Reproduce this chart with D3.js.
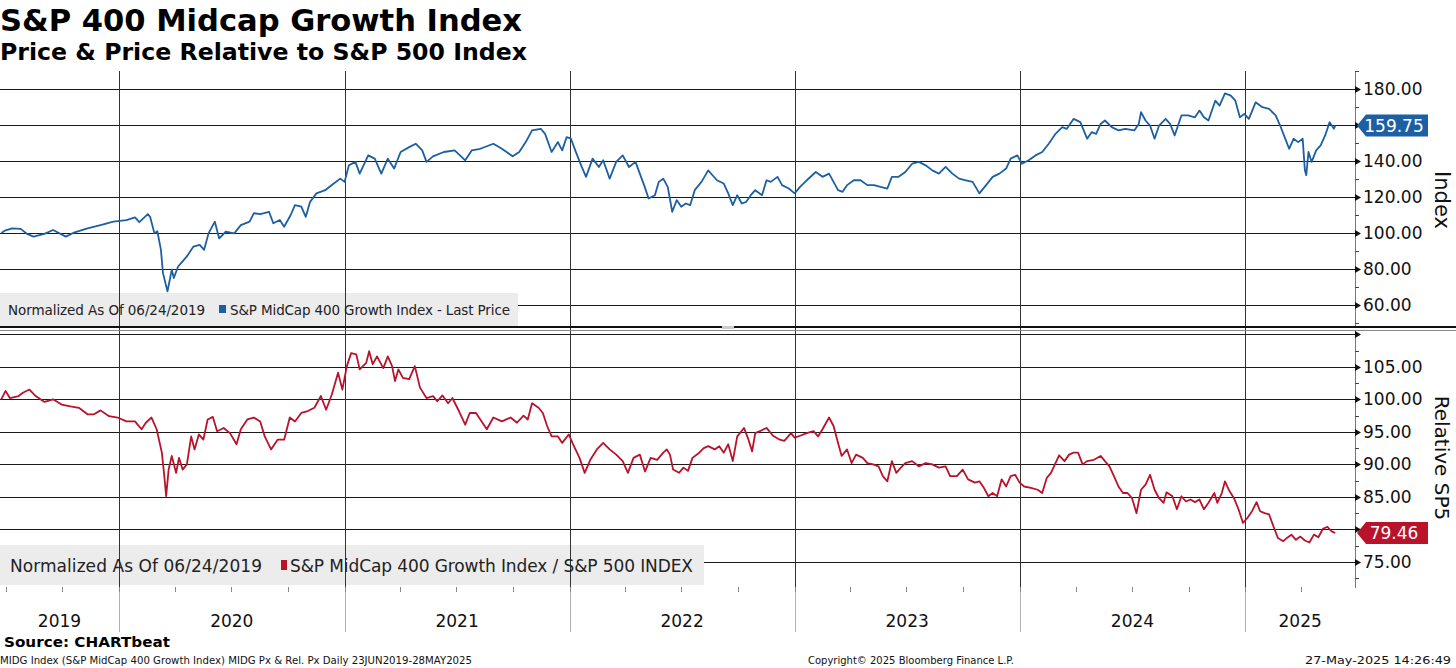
<!DOCTYPE html>
<html>
<head>
<meta charset="utf-8">
<script src="https://cdn.jsdelivr.net/npm/d3@7"></script>
<style>
  body { margin: 0; background: #fff; }
  text { font-family: "DejaVu Sans", Verdana, sans-serif; }
</style>
</head>
<body>
<div id="chart"></div>
<script>
// S&P 400 Midcap Growth: price (normalized) and price relative to S&P 500
// dates are decimal years

const priceYears = [
  2019.477, 2019.496, 2019.525, 2019.563, 2019.592, 2019.620, 2019.669, 2019.707, 2019.764, 2019.803,
  2019.860, 2019.918, 2019.975, 2020.033, 2020.071, 2020.090, 2020.128, 2020.138, 2020.157, 2020.170,
  2020.186, 2020.195, 2020.215, 2020.234, 2020.243, 2020.262, 2020.282, 2020.301, 2020.330, 2020.358,
  2020.377, 2020.397, 2020.425, 2020.444, 2020.473, 2020.511, 2020.540, 2020.579, 2020.598, 2020.626,
  2020.665, 2020.684, 2020.713, 2020.732, 2020.761, 2020.780, 2020.808, 2020.828, 2020.847, 2020.875,
  2020.914, 2020.952, 2020.981, 2021.000, 2021.019, 2021.048, 2021.067, 2021.105, 2021.134, 2021.163,
  2021.192, 2021.220, 2021.249, 2021.287, 2021.316, 2021.345, 2021.364, 2021.393, 2021.441, 2021.489,
  2021.536, 2021.565, 2021.603, 2021.661, 2021.699, 2021.747, 2021.776, 2021.805, 2021.833, 2021.872,
  2021.891, 2021.920, 2021.948, 2021.967, 2021.987, 2022.006, 2022.025, 2022.054, 2022.073, 2022.102,
  2022.130, 2022.149, 2022.178, 2022.207, 2022.236, 2022.264, 2022.293, 2022.312, 2022.331, 2022.351,
  2022.379, 2022.396, 2022.416, 2022.436, 2022.456, 2022.476, 2022.496, 2022.516, 2022.536, 2022.556,
  2022.586, 2022.616, 2022.635, 2022.655, 2022.685, 2022.705, 2022.725, 2022.745, 2022.765, 2022.785,
  2022.805, 2022.825, 2022.855, 2022.875, 2022.894, 2022.924, 2022.944, 2022.974, 2023.000, 2023.024,
  2023.054, 2023.094, 2023.124, 2023.153, 2023.173, 2023.193, 2023.213, 2023.233, 2023.263, 2023.293,
  2023.323, 2023.353, 2023.382, 2023.412, 2023.432, 2023.462, 2023.492, 2023.522, 2023.552, 2023.582,
  2023.612, 2023.641, 2023.671, 2023.701, 2023.731, 2023.761, 2023.791, 2023.821, 2023.851, 2023.880,
  2023.910, 2023.940, 2023.960, 2023.990, 2024.010, 2024.040, 2024.070, 2024.100, 2024.129, 2024.159,
  2024.189, 2024.209, 2024.239, 2024.269, 2024.299, 2024.319, 2024.339, 2024.359, 2024.378, 2024.408,
  2024.438, 2024.468, 2024.508, 2024.528, 2024.538, 2024.558, 2024.578, 2024.598, 2024.618, 2024.647,
  2024.667, 2024.687, 2024.717, 2024.747, 2024.777, 2024.797, 2024.817, 2024.837, 2024.867, 2024.886,
  2024.910, 2024.936, 2024.956, 2024.976, 2024.996, 2025.016, 2025.046, 2025.076, 2025.106, 2025.135,
  2025.155, 2025.175, 2025.195, 2025.215, 2025.235, 2025.255, 2025.265, 2025.271, 2025.281, 2025.295,
  2025.315, 2025.335, 2025.355, 2025.375, 2025.394, 2025.400
];
const priceValues = [
  100.0, 101.5, 102.6, 102.3, 99.5, 98.0, 99.5, 101.7, 98.0, 100.4,
  102.6, 104.4, 106.3, 107.2, 108.7, 106.0, 110.5, 109.0, 99.8, 101.0,
  90.6, 77.7, 67.6, 79.6, 75.0, 81.4, 84.2, 87.0, 92.5, 93.4,
  90.6, 99.8, 106.3, 97.0, 100.7, 99.8, 104.4, 106.3, 111.0, 110.5,
  111.8, 105.4, 107.2, 103.5, 110.0, 115.5, 114.6, 109.0, 117.3, 122.0,
  123.8, 127.5, 130.2, 128.4, 137.6, 139.5, 133.0, 143.1, 141.3, 133.0,
  141.3, 135.8, 145.0, 147.7, 149.6, 145.9, 139.5, 142.6, 145.0, 145.9,
  140.4, 145.9, 146.8, 149.6, 146.8, 142.6, 145.0, 150.5, 157.0, 157.9,
  155.1, 145.0, 150.5, 145.9, 153.3, 152.4, 145.9, 136.7, 131.2, 141.3,
  136.7, 140.4, 130.2, 139.5, 143.1, 136.7, 139.5, 133.0, 126.6, 119.2,
  121.0, 128.4, 130.2, 125.6, 111.8, 118.3, 114.6, 116.4, 115.5, 123.8,
  128.4, 134.8, 132.1, 129.3, 127.5, 122.0, 115.5, 121.0, 116.4, 117.3,
  121.0, 123.8, 121.0, 129.3, 128.4, 131.2, 126.6, 124.7, 122.0, 125.6,
  129.3, 133.9, 131.2, 133.0, 128.4, 123.8, 122.9, 126.6, 129.3, 129.3,
  126.6, 126.6, 125.6, 124.7, 131.2, 131.2, 133.9, 138.5, 139.5, 137.6,
  134.8, 133.0, 136.7, 133.0, 130.2, 129.3, 128.4, 122.0, 126.6, 131.2,
  133.0, 135.8, 141.3, 143.1, 138.5, 140.4, 143.1, 145.0, 149.6, 155.1,
  158.8, 157.9, 163.4, 161.6, 152.4, 156.0, 155.1, 160.6, 162.5, 158.8,
  157.0, 157.9, 157.0, 160.6, 167.1, 162.5, 159.7, 152.4, 159.7, 163.4,
  160.6, 154.2, 165.3, 165.3, 164.3, 168.0, 164.3, 162.5, 173.5, 170.8,
  177.6, 176.3, 173.5, 164.3, 166.2, 163.4, 172.6, 169.9, 168.9, 165.3,
  159.7, 153.3, 146.8, 152.4, 150.5, 152.4, 134.8, 132.1, 145.0, 139.5,
  145.9, 148.7, 154.2, 161.6, 157.9, 159.75
];

const relYears = [
  2019.477, 2019.496, 2019.515, 2019.554, 2019.573, 2019.602, 2019.630, 2019.669, 2019.707, 2019.745,
  2019.784, 2019.822, 2019.860, 2019.889, 2019.918, 2019.956, 2019.994, 2020.033, 2020.071, 2020.100,
  2020.119, 2020.144, 2020.167, 2020.190, 2020.201, 2020.209, 2020.220, 2020.234, 2020.253, 2020.266,
  2020.282, 2020.301, 2020.320, 2020.335, 2020.354, 2020.374, 2020.393, 2020.416, 2020.435, 2020.464,
  2020.492, 2020.521, 2020.540, 2020.569, 2020.598, 2020.626, 2020.646, 2020.674, 2020.703, 2020.732,
  2020.757, 2020.780, 2020.808, 2020.837, 2020.866, 2020.895, 2020.918, 2020.943, 2020.971, 2020.990,
  2021.010, 2021.029, 2021.052, 2021.067, 2021.096, 2021.109, 2021.125, 2021.144, 2021.172, 2021.192,
  2021.211, 2021.224, 2021.239, 2021.259, 2021.287, 2021.312, 2021.335, 2021.364, 2021.393, 2021.412,
  2021.435, 2021.460, 2021.479, 2021.508, 2021.536, 2021.556, 2021.584, 2021.603, 2021.632, 2021.661,
  2021.699, 2021.738, 2021.766, 2021.795, 2021.814, 2021.833, 2021.862, 2021.881, 2021.900, 2021.920,
  2021.948, 2021.967, 2021.996, 2022.015, 2022.044, 2022.067, 2022.092, 2022.121, 2022.149, 2022.178,
  2022.207, 2022.236, 2022.259, 2022.284, 2022.312, 2022.335, 2022.360, 2022.389, 2022.416, 2022.432,
  2022.446, 2022.460, 2022.486, 2022.506, 2022.526, 2022.546, 2022.576, 2022.596, 2022.616, 2022.645,
  2022.665, 2022.685, 2022.705, 2022.725, 2022.745, 2022.775, 2022.795, 2022.811, 2022.825, 2022.845,
  2022.875, 2022.904, 2022.934, 2022.954, 2022.984, 2023.000, 2023.024, 2023.054, 2023.084, 2023.104,
  2023.124, 2023.153, 2023.173, 2023.193, 2023.209, 2023.233, 2023.253, 2023.273, 2023.303, 2023.323,
  2023.349, 2023.373, 2023.392, 2023.412, 2023.432, 2023.452, 2023.472, 2023.492, 2023.522, 2023.552,
  2023.582, 2023.612, 2023.641, 2023.671, 2023.691, 2023.721, 2023.747, 2023.771, 2023.801, 2023.821,
  2023.841, 2023.861, 2023.880, 2023.900, 2023.920, 2023.940, 2023.960, 2023.980, 2024.000, 2024.020,
  2024.050, 2024.080, 2024.100, 2024.120, 2024.139, 2024.159, 2024.175, 2024.199, 2024.219, 2024.239,
  2024.259, 2024.279, 2024.299, 2024.329, 2024.359, 2024.378, 2024.398, 2024.418, 2024.438, 2024.458,
  2024.478, 2024.498, 2024.518, 2024.538, 2024.558, 2024.578, 2024.598, 2024.618, 2024.638, 2024.651,
  2024.677, 2024.697, 2024.717, 2024.737, 2024.757, 2024.777, 2024.797, 2024.817, 2024.837, 2024.863,
  2024.876, 2024.896, 2024.910, 2024.930, 2024.950, 2024.970, 2024.990, 2025.010, 2025.030, 2025.050,
  2025.066, 2025.086, 2025.106, 2025.125, 2025.145, 2025.169, 2025.185, 2025.205, 2025.225, 2025.245,
  2025.265, 2025.285, 2025.305, 2025.325, 2025.345, 2025.365, 2025.384, 2025.400
];
const relValues = [
  100.0, 101.3, 100.2, 100.5, 101.0, 101.5, 100.5, 99.6, 100.0, 99.2,
  98.9, 98.7, 97.7, 97.7, 98.3, 97.4, 97.2, 96.6, 96.6, 95.4,
  96.4, 97.2, 95.4, 91.8, 88.2, 85.1, 89.2, 91.3, 88.7, 91.0,
  89.2, 90.0, 94.3, 92.3, 94.6, 93.8, 96.9, 97.3, 95.1, 95.6,
  94.8, 93.1, 95.4, 96.9, 97.2, 96.6, 94.3, 92.3, 93.8, 93.8,
  97.2, 96.6, 97.9, 98.2, 98.7, 100.5, 98.4, 100.7, 104.1, 101.5,
  105.1, 107.1, 106.9, 104.6, 105.6, 107.4, 105.4, 106.6, 104.8, 106.6,
  105.1, 102.8, 104.6, 103.3, 103.1, 105.1, 101.8, 100.2, 100.5, 99.7,
  100.6, 99.4, 100.2, 98.2, 96.1, 97.9, 97.9, 96.9, 95.4, 97.2,
  96.6, 97.2, 96.4, 97.5, 96.9, 99.4, 98.7, 97.9, 95.9, 94.3,
  94.3, 93.3, 94.6, 93.1, 91.0, 88.7, 90.7, 92.3, 93.3, 92.3,
  91.5, 90.5, 88.7, 91.0, 91.5, 88.9, 91.0, 90.7, 91.8, 92.3,
  91.5, 89.2, 88.7, 89.5, 89.0, 91.0, 91.8, 92.5, 92.8, 92.3,
  92.8, 91.8, 93.1, 90.5, 94.3, 95.6, 93.8, 92.0, 94.8, 95.1,
  95.6, 94.4, 93.8, 93.6, 94.8, 94.1, 94.4, 94.8, 95.1, 94.3,
  95.4, 97.2, 95.9, 93.3, 91.3, 92.3, 90.2, 91.5, 91.0, 90.2,
  90.0, 89.7, 88.2, 87.4, 90.5, 88.7, 89.5, 90.2, 90.5, 89.7,
  90.2, 90.0, 89.5, 89.7, 88.2, 88.2, 89.2, 87.7, 87.2, 87.4,
  86.4, 85.1, 85.6, 85.1, 87.7, 86.6, 88.2, 88.4, 87.2, 86.6,
  86.4, 86.1, 85.6, 87.9, 88.7, 90.2, 91.4, 90.5, 91.5, 91.8,
  91.8, 90.0, 90.5, 90.7, 91.3, 90.5, 89.7, 88.2, 86.6, 85.6,
  85.6, 84.8, 82.5, 86.1, 86.9, 88.4, 86.1, 84.8, 84.1, 85.7,
  85.1, 83.1, 85.1, 84.3, 84.6, 84.2, 84.6, 83.1, 84.1, 85.6,
  84.1, 85.6, 87.4, 85.9, 84.8, 83.1, 81.0, 81.8, 82.8, 84.2,
  82.8, 82.5, 82.3, 80.5, 78.7, 78.2, 78.7, 79.2, 78.4, 78.9,
  78.3, 78.0, 79.2, 78.8, 80.1, 80.4, 79.7, 79.46
];

const yearLabels = [2019, 2020, 2021, 2022, 2023, 2024, 2025];
const priceTicks = [60, 80, 100, 120, 140, 160, 180];
const relTicks = [75, 80, 85, 90, 95, 100, 105];
const lastPrice = 159.75;
const lastRel = 79.46;

const W = 1456, H = 668;
const plotRight = 1355;
const blue = '#1d5fa3', red = '#b8132b';

function toDate(y) {
  const yr = Math.floor(y);
  const s = new Date(yr, 0, 1), e = new Date(yr + 1, 0, 1);
  return new Date(+s + (y - yr) * (e - s));
}

const priceData = priceYears.map((y, i) => ({ date: toDate(y), value: priceValues[i] }));
const relData = relYears.map((y, i) => ({ date: toDate(y), value: relValues[i] }));

const svg = d3.select('#chart').append('svg')
  .attr('width', W).attr('height', H)
  .style('display', 'block');

svg.append('rect').attr('width', W).attr('height', H).attr('fill', '#fff');

// scales
const x = d3.scaleTime()
  .domain([new Date(2019, 5, 22), new Date(2025, 5, 28)])
  .range([0, plotRight]);

const yTop = d3.scaleLinear().domain([48.9, 190]).range([325, 71]);
const yBot = d3.scaleLinear().domain([71, 110.5]).range([588, 331]);

// horizontal gridlines
svg.append('g').selectAll('line')
  .data(priceTicks)
  .enter().append('line')
  .attr('x1', 0).attr('x2', plotRight)
  .attr('y1', d => Math.round(yTop(d)) + 0.5).attr('y2', d => Math.round(yTop(d)) + 0.5)
  .attr('stroke', '#1a1a1a');

svg.append('g').selectAll('line')
  .data(relTicks.concat([110]))
  .enter().append('line')
  .attr('x1', 0).attr('x2', plotRight)
  .attr('y1', d => Math.round(yBot(d)) + 0.5).attr('y2', d => Math.round(yBot(d)) + 0.5)
  .attr('stroke', '#1a1a1a');

// legend backgrounds
svg.append('rect').attr('x', 0).attr('y', 293).attr('width', 518).attr('height', 33).attr('fill', '#ececec');
svg.append('rect').attr('x', 0).attr('y', 545).attr('width', 704).attr('height', 40).attr('fill', '#ececec');

// vertical year lines
const yearStarts = yearLabels.slice(1).map(y => new Date(y, 0, 1));
svg.append('g').selectAll('line')
  .data(yearStarts)
  .enter().append('line')
  .attr('x1', d => Math.round(x(d)) + 0.5).attr('x2', d => Math.round(x(d)) + 0.5)
  .attr('y1', 71).attr('y2', 588)
  .attr('stroke', '#333');
svg.append('g').selectAll('line')
  .data(yearStarts)
  .enter().append('line')
  .attr('x1', d => Math.round(x(d)) + 0.5).attr('x2', d => Math.round(x(d)) + 0.5)
  .attr('y1', 588).attr('y2', 632)
  .attr('stroke', '#b0b0b0');

// quarterly ticks on x axis
svg.append('g').selectAll('line')
  .data(d3.timeMonth.every(3).range(x.domain()[0], x.domain()[1]))
  .enter().append('line')
  .attr('x1', d => Math.round(x(d)) + 0.5).attr('x2', d => Math.round(x(d)) + 0.5)
  .attr('y1', 587).attr('y2', 592)
  .attr('stroke', '#888');

// legend texts
const lg1 = svg.append('g').style('font-size', '13.5px').attr('fill', '#222');
lg1.append('text').attr('x', 8).attr('y', 315).attr('textLength', 197).text('Normalized As Of 06/24/2019');
lg1.append('rect').attr('x', 219).attr('y', 305).attr('width', 7).attr('height', 8).attr('fill', blue);
lg1.append('text').attr('x', 230).attr('y', 315).attr('textLength', 280).text('S&P MidCap 400 Growth Index - Last Price');

const lg2 = svg.append('g').style('font-size', '17px').attr('fill', '#222');
lg2.append('text').attr('x', 10).attr('y', 572).attr('textLength', 252).text('Normalized As Of 06/24/2019');
lg2.append('rect').attr('x', 281).attr('y', 560).attr('width', 6).attr('height', 10).attr('fill', red);
lg2.append('text').attr('x', 290).attr('y', 572).attr('textLength', 403).text('S&P MidCap 400 Growth Index / S&P 500 INDEX');

// clip paths for panels
const defs = svg.append('defs');
defs.append('clipPath').attr('id', 'clipTop')
  .append('rect').attr('x', 0).attr('y', 71).attr('width', plotRight).attr('height', 255);
defs.append('clipPath').attr('id', 'clipBot')
  .append('rect').attr('x', 0).attr('y', 331).attr('width', plotRight).attr('height', 257);

// lines
const lineTop = d3.line().x(d => x(d.date)).y(d => yTop(d.value));
const lineBot = d3.line().x(d => x(d.date)).y(d => yBot(d.value));

svg.append('path').datum(priceData)
  .attr('clip-path', 'url(#clipTop)')
  .attr('d', lineTop)
  .attr('fill', 'none').attr('stroke', blue).attr('stroke-width', 1.8)
  .attr('stroke-linejoin', 'round');

svg.append('path').datum(relData)
  .attr('clip-path', 'url(#clipBot)')
  .attr('d', lineBot)
  .attr('fill', 'none').attr('stroke', red).attr('stroke-width', 1.8)
  .attr('stroke-linejoin', 'round');

// panel separator
svg.append('line').attr('x1', 0).attr('x2', W).attr('y1', 327).attr('y2', 327)
  .attr('stroke', '#111').attr('stroke-width', 2);
svg.append('line').attr('x1', 0).attr('x2', W).attr('y1', 330.5).attr('y2', 330.5)
  .attr('stroke', '#888').attr('stroke-width', 1);
svg.append('rect').attr('x', 722).attr('y', 326).attr('width', 12).attr('height', 3).attr('fill', '#ccc');

// right axis
svg.append('line').attr('x1', plotRight + 0.5).attr('x2', plotRight + 0.5).attr('y1', 71).attr('y2', 326)
  .attr('stroke', '#777');
svg.append('line').attr('x1', plotRight + 0.5).attr('x2', plotRight + 0.5).attr('y1', 331).attr('y2', 588)
  .attr('stroke', '#777');

// hidden: the label sitting under the last-value flag
function drawAxis(scale, ticks, minorStep, lo, hi, hidden) {
  const g = svg.append('g');
  const minors = d3.range(lo, hi + 0.001, minorStep).filter(v => !ticks.includes(v));
  g.selectAll('line.minor').data(minors).enter().append('line')
    .attr('x1', plotRight).attr('x2', plotRight + 4)
    .attr('y1', d => Math.round(scale(d)) + 0.5).attr('y2', d => Math.round(scale(d)) + 0.5)
    .attr('stroke', '#444');
  g.selectAll('path.major').data(ticks).enter().append('path')
    .attr('d', d => {
      const yy = Math.round(scale(d)) + 0.5;
      return `M${plotRight},${yy - 3.5}L${plotRight + 6},${yy}L${plotRight},${yy + 3.5}Z`;
    })
    .attr('fill', '#111');
  g.selectAll('text').data(ticks.filter(t => !hidden.includes(t))).enter().append('text')
    .attr('x', 1363)
    .attr('y', d => scale(d))
    .attr('dy', '0.36em')
    .style('font-size', '17px')
    .attr('fill', '#111')
    .text(d => d.toFixed(2));
}
drawAxis(yTop, priceTicks, 10, 50, 190, [160]);
drawAxis(yBot, relTicks.concat([110]), 2.5, 72.5, 110, [80, 110]);

// last value flags
function flag(yy, label, color) {
  const g = svg.append('g');
  g.append('path')
    .attr('d', `M${plotRight + 2},${yy}L${plotRight + 11},${yy - 11}L1428,${yy - 11}L1428,${yy + 11}L${plotRight + 11},${yy + 11}Z`)
    .attr('fill', color);
  g.append('text').attr('x', 1394).attr('y', yy).attr('dy', '0.36em')
    .attr('text-anchor', 'middle').attr('fill', '#fff').style('font-size', '17px').text(label);
}
flag(yTop(lastPrice), lastPrice.toFixed(2), blue);
flag(yBot(lastRel), lastRel.toFixed(2), red);

// axis titles
svg.append('text').attr('transform', 'translate(1442,200) rotate(90)')
  .attr('text-anchor', 'middle').attr('dy', '0.35em')
  .style('font-size', '21px').attr('fill', '#111').text('Index');
svg.append('text').attr('transform', 'translate(1442,458) rotate(90)')
  .attr('text-anchor', 'middle').attr('dy', '0.35em')
  .style('font-size', '20px').attr('fill', '#111').text('Relative SP5');

// year labels centered in each year
svg.append('g').selectAll('text')
  .data(yearLabels)
  .enter().append('text')
  .attr('x', d => {
    const a = Math.max(0, x(new Date(d, 0, 1)));
    const b = Math.min(plotRight, x(new Date(d + 1, 0, 1)));
    return (a + b) / 2;
  })
  .attr('y', 627)
  .attr('text-anchor', 'middle')
  .style('font-size', '17px')
  .attr('fill', '#111')
  .text(d => d);

// titles
svg.append('text').attr('x', 0).attr('y', 31)
  .attr('textLength', 522).attr('lengthAdjust', 'spacingAndGlyphs')
  .style('font-size', '31px').style('font-weight', 'bold').attr('fill', '#000')
  .text('S&P 400 Midcap Growth Index');
svg.append('text').attr('x', 0).attr('y', 60)
  .attr('textLength', 527).attr('lengthAdjust', 'spacingAndGlyphs')
  .style('font-size', '23px').style('font-weight', 'bold').attr('fill', '#000')
  .text('Price & Price Relative to S&P 500 Index');

// footer
svg.append('text').attr('x', 4).attr('y', 647)
  .attr('textLength', 166).attr('lengthAdjust', 'spacingAndGlyphs')
  .style('font-size', '14px').style('font-weight', 'bold').attr('fill', '#000')
  .text('Source: CHARTbeat');
svg.append('text').attr('x', 0).attr('y', 664)
  .attr('textLength', 472).attr('lengthAdjust', 'spacingAndGlyphs')
  .style('font-size', '10px').attr('fill', '#111')
  .text('MIDG Index (S&P MidCap 400 Growth Index) MIDG Px & Rel. Px  Daily 23JUN2019-28MAY2025');
svg.append('text').attr('x', 808).attr('y', 664)
  .attr('textLength', 206).attr('lengthAdjust', 'spacingAndGlyphs')
  .style('font-size', '10px').attr('fill', '#111')
  .text('Copyright\u00a9 2025 Bloomberg Finance L.P.');
svg.append('text').attr('x', 1451).attr('y', 664).attr('text-anchor', 'end')
  .attr('textLength', 146).attr('lengthAdjust', 'spacingAndGlyphs')
  .style('font-size', '10px').attr('fill', '#111')
  .text('27-May-2025 14:26:49');
</script>
</body>
</html>
